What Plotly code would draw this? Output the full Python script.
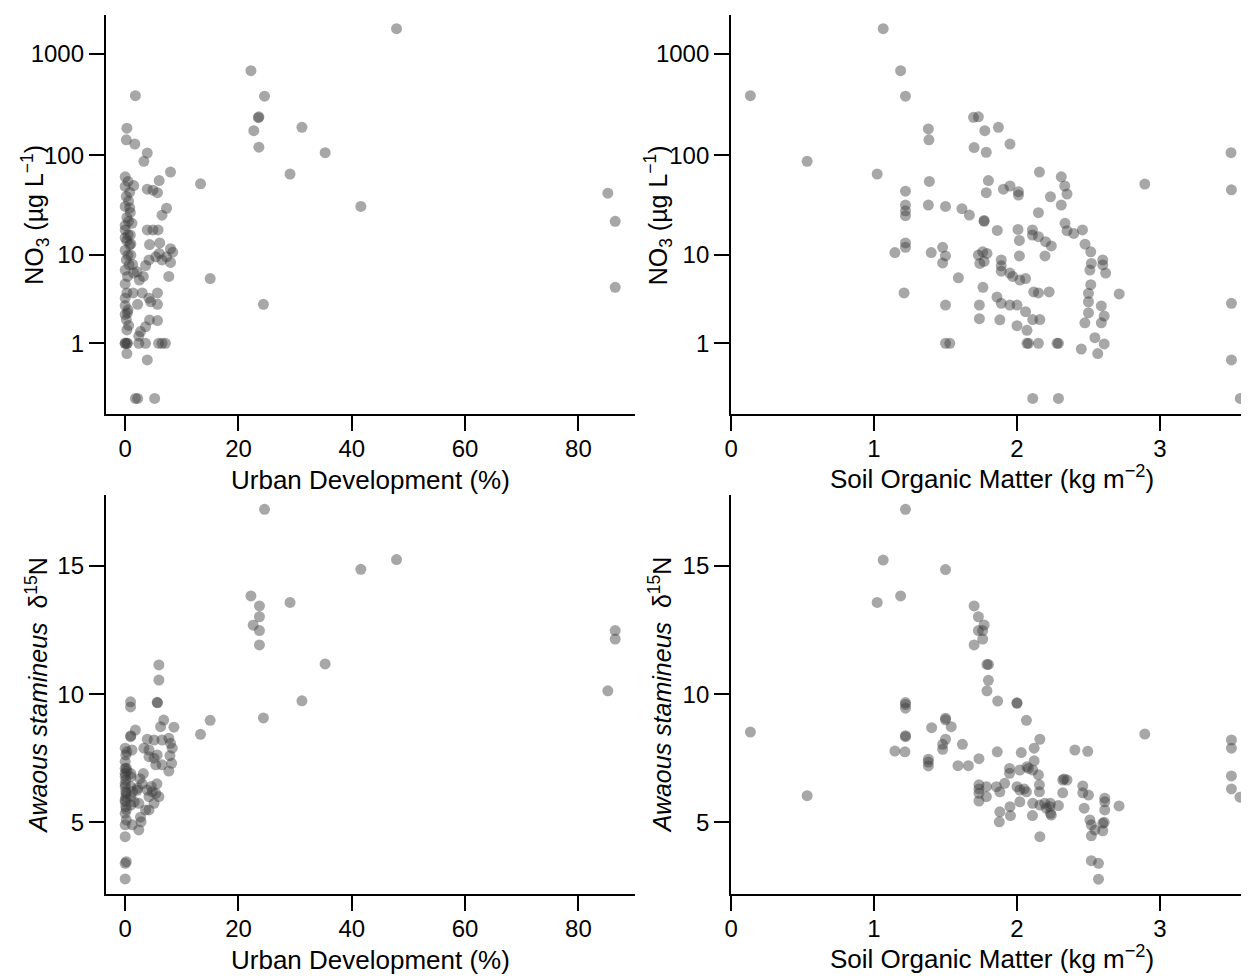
import numpy as np
import plotly.graph_objects as go

# ---------------- data ----------------
# Panel A: NO3 vs urban development
urban_a = [0.3, 0.2, 1.7, 1.8, 3.9, 3.3, 8.0, 6.0, 13.3, 3.9, 4.9, 5.7, 7.3, 6.5, 3.9, 4.9, 5.8, 4.3, 6.1,
           8.0, 8.4, 5.4, 6.0, 6.5, 7.3, 3.6, 4.2, 8.0, 7.7, 2.1, 3.2, 15.0,
           1.4, 3.0, 5.7, 4.2, 4.5, 2.2, 5.7, 24.4, 4.3, 3.6, 2.7, 2.4, 5.7,
           0.4, 2.4, 3.6, 5.9, 6.5, 7.1, 0.3, 3.9, 1.8, 2.2, 5.2,
           22.2, 24.6, 23.5, 23.6, 22.7, 31.2, 23.6, 29.1, 47.9, 35.3, 41.6, 85.2, 86.5, 86.5,
           0.0, 0.5, 0.0, 0.8, 0.2, 0.6, 0.0, 0.9, 0.3, 1.2, 0.0, 0.5, 0.0, 0.3, 0.8, 0.0, 0.5, 1.0,
           0.2, 0.7, 0.0, 0.4, 1.5, 0.0, 0.3, 0.0, 0.5, 0.0, 0.2, 0.6, 0.0, 0.3, 1.0, 0.0, 1.5, 0.8,
           0.6, 1.3, 2.5, 0.0, 0.4, 0.9, 0.0, 0.3]
no3_a = [185, 142, 129, 388, 105, 87, 68, 56, 52, 46, 45, 42.5, 29.7, 25.3, 18, 18, 18, 12.8, 13.3,
         11.6, 10.7, 9.6, 10.4, 8.9, 9.6, 7.8, 8.9, 8.4, 6.0, 6.7, 6.0, 5.7,
         4.0, 4.0, 4.0, 3.5, 3.2, 3.0, 3.0, 3.0, 1.98, 1.64, 1.43, 1.25, 1.95,
         1.0, 1.0, 1.0, 1.0, 1.0, 1.0, 0.71, 0.56, 0, 0, 0,
         684, 383, 235, 240, 175, 189, 120, 65, 1778, 106, 31, 42, 22, 4.6,
         61, 55, 49, 43, 39, 35, 31, 27, 24, 21, 18, 16, 15, 14, 12.7, 11.2, 10, 10,
         8.9, 7.9, 7.0, 6.0, 6.5, 5.0, 4.0, 2.9, 2.6, 2.3, 2.0, 1.7, 1.0, 1.0, 13, 20, 50, 30,
         22, 8.0, 5.5, 3.5, 2.4, 16, 1.0, 1.5]

# Panel B: NO3 vs soil organic matter
som_b = [0.135, 0.532, 1.022, 1.064, 1.186, 1.22, 1.38, 1.384, 1.387, 1.38, 1.22, 1.22, 1.22, 1.22, 1.22, 1.22,
         1.146, 1.40, 1.21,
         1.50, 1.615, 1.667, 1.48, 1.50, 1.48, 1.59, 1.50, 1.50, 1.53,
         1.696, 1.73, 1.775, 1.87, 1.70, 1.785, 1.951, 1.80, 1.785, 1.905, 1.951, 2.01, 2.01, 2.157, 2.234,
         2.15, 1.77, 1.77, 1.862, 2.007, 2.017, 2.108, 2.108, 2.15, 2.20, 2.24,
         1.73, 1.76, 1.79, 1.74, 1.77,
         1.89, 1.89, 1.89, 1.95, 1.97, 2.02, 2.06, 2.017, 2.196,
         2.117, 2.15, 2.225, 1.762,
         1.86, 1.89, 1.95, 2.0, 1.737, 1.737, 1.88, 2.0, 2.07, 2.11, 2.16, 2.06,
         2.07, 2.08, 2.15, 2.28, 2.11, 2.29,
         3.497, 3.5, 3.5, 3.5, 3.562, 2.894,
         2.31, 2.334, 2.35, 2.31, 2.336, 2.35, 2.397, 2.458, 2.476, 2.516,
         2.52, 2.6, 2.6, 2.62, 2.51, 2.516, 2.5, 2.5, 2.5, 2.59, 2.61, 2.59, 2.475, 2.715,
         2.545, 2.61, 2.565, 2.45, 2.29]
no3_b = [388, 87, 65, 1778, 684, 383, 182, 142, 55, 32, 44, 32, 28, 25, 13.3, 12,
         10.6, 10.6, 4.0,
         31, 29.4, 25.4, 12, 9.8, 8.3, 5.8, 2.94, 1.0, 1.0,
         237, 240, 175, 189, 119, 107, 129, 56, 42.5, 46, 49.5, 43.5, 40.2, 68, 38.7,
         26.8, 22, 22.4, 17.8, 18.2, 14.1, 18, 16, 15.4, 13.7, 12.4,
         10, 10.8, 10.4, 8.2, 8.6,
         8.9, 7.75, 6.8, 6.5, 6.0, 5.5, 5.7, 9.8, 9.8,
         4.1, 4.0, 4.1, 4.6,
         3.6, 3.07, 2.94, 2.94, 2.94, 2.05, 1.99, 1.69, 1.48, 2.0, 2.0, 2.47,
         1.0, 1.0, 1.0, 1.0, 0, 0,
         106, 45.4, 3.07, 0.56, 0, 51.7,
         61, 49.5, 41.2, 32, 21, 17.7, 16.6, 18, 12.9, 10.8,
         8.2, 8.9, 7.9, 6.5, 7.0, 4.9, 3.96, 3.2, 2.4, 2.87, 2.2, 1.83, 1.83, 3.9,
         1.19, 0.98, 0.71, 0.83, 1.0]

# Panel C: d15N vs urban development
urban_c = [24.6, 22.2, 23.7, 23.7, 22.6, 23.7, 23.7, 29.1, 31.2, 24.4, 13.3, 15.0, 41.6, 47.9, 35.3,
           86.5, 86.5, 85.2,
           5.95, 5.95, 0.95, 0.95, 5.65, 5.7, 6.8, 6.25, 8.6, 1.8, 0.95, 1.0,
           3.9, 5.1, 6.5, 7.7, 8.0, 8.3, 7.9, 8.2,
           0.0, 0.1, 0.0, 0.2, 0.0, 0.1, 0.0, 0.2, 0.0, 0.1, 0.0, 0.2, 0.0, 0.0, 0.3, 0.0, 0.1, 0.2,
           0.0, 0.3, 0.1, 0.0, 0.2, 0.0, 0.0, 0.0,
           1.0, 1.0, 1.0, 1.0, 1.0, 1.3, 1.6, 1.2,
           3.3, 4.2, 5.1, 4.2, 5.65, 6.5, 5.4, 7.7, 2.6, 3.0, 2.2,
           3.9, 4.8, 5.4, 5.95, 4.2, 5.1, 3.6, 4.2, 2.4, 2.1, 5.6, 4.6, 3.2, 2.8,
           1.25, 2.4, 2.7, 1.5]
d15n_c = [17.21, 13.83, 13.44, 13.02, 12.69, 12.48, 11.92, 13.58, 9.74, 9.07, 8.43, 8.98, 14.87, 15.25, 11.18,
          12.48, 12.15, 10.13,
          11.14, 10.55, 9.7, 9.5, 9.68, 9.66, 8.99, 8.73, 8.71, 8.6, 8.34, 8.38,
          8.24, 8.21, 8.21, 8.28, 8.08, 7.89, 7.6, 7.3,
          7.89, 7.63, 7.37, 7.11, 6.91, 6.65, 6.39, 6.13, 5.87, 5.61, 5.35, 5.09, 4.9, 4.44, 7.75, 6.5,
          6.0, 5.5, 6.8, 7.0, 6.2, 5.8, 3.46, 3.4, 2.79,
          7.1, 6.78, 6.39, 6.0, 5.67, 6.9, 6.2, 5.8,
          7.82, 7.89, 7.82, 7.5, 7.56, 7.63, 7.24, 7.24, 7.0, 6.7, 6.5,
          6.33, 6.26, 6.19, 6.13, 6.0, 6.0, 5.74, 5.48, 5.48, 5.74, 6.25, 6.5, 6.4, 6.9,
          5.02, 4.9, 4.7, 5.2]

# Panel D: d15N vs soil organic matter
som_d = [1.22, 1.064, 1.186, 1.022, 1.22, 1.22, 1.22, 0.135, 1.403, 1.22, 1.22, 1.146, 1.216, 1.38, 1.38, 1.38,
         0.532,
         1.50, 1.70, 1.73, 1.77, 1.73, 1.76, 1.76, 1.70, 1.80, 1.79, 1.80, 1.79, 1.865, 2.0, 2.0, 2.066,
         2.16, 2.12, 2.03, 1.862, 2.12,
         1.50, 1.50, 1.54, 1.50, 1.48, 1.48, 1.618, 1.587, 1.66, 1.734,
         1.734, 1.734, 1.734, 1.786, 1.786, 1.734,
         1.856, 1.88, 1.88, 1.876, 1.951, 1.954,
         1.914, 1.948, 1.948, 2.02, 2.07, 2.08,
         2.0, 2.02, 2.066, 2.02, 2.05,
         2.11, 2.15, 2.157, 2.157, 2.11, 2.108, 2.16,
         2.194, 2.23, 2.24, 2.29, 2.16, 2.205, 2.234, 2.234,
         2.32, 2.35, 2.33, 2.32, 2.405, 2.495,
         2.46, 2.46, 2.5, 2.47,
         2.614, 2.614, 2.614, 2.714,
         2.51, 2.52, 2.52, 2.545, 2.6, 2.6, 2.61,
         2.52, 2.57, 2.57,
         2.894, 3.50, 3.50, 3.50, 3.50, 3.56]
d15n_d = [17.21, 15.23, 13.83, 13.58, 9.67, 9.45, 9.6, 8.52, 8.69, 8.34, 8.38, 7.78, 7.75, 7.46, 7.35, 7.2,
          6.04,
          14.86, 13.44, 13.02, 12.7, 12.48, 12.48, 12.15, 11.92, 11.16, 11.16, 10.54, 10.13, 9.73, 9.64, 9.66, 8.98,
          8.24, 7.89, 7.72, 7.75, 7.4,
          9.06, 9.0, 8.73, 8.24, 8.04, 7.85, 8.04, 7.21, 7.21, 7.48,
          6.46, 6.13, 5.83, 6.39, 6.0, 6.3,
          6.39, 6.19, 5.41, 5.02, 5.61, 5.26,
          6.52, 7.1, 6.91, 7.04, 7.17, 7.1,
          6.39, 6.26, 6.19, 5.8, 6.3,
          7.04, 6.85, 6.46, 6.19, 5.74, 5.26, 4.44,
          5.74, 5.61, 5.28, 5.65, 5.67, 5.55, 5.35, 5.74,
          6.65, 6.65, 6.69, 6.15, 7.82, 7.77,
          6.42, 6.15, 6.06, 5.55,
          5.94, 5.8, 5.48, 5.64,
          5.09, 4.9, 4.47, 4.7, 4.96, 4.67, 5.0,
          3.5, 3.4, 2.78,
          8.44, 8.21, 7.89, 6.81, 6.3, 5.98]

no3_ticks = [1, 10, 100, 1000]
no3_offset = 0.4          # NO3 axis is log10(NO3 + 0.4)
d15n_ticks = [5, 10, 15]
urban_ticks = [0, 20, 40, 60, 80]
som_ticks = [0, 1, 2, 3]

no3_title = "NO<sub>3</sub> (µg L<sup>−1</sup>)"
d15n_title = "<i>Awaous stamineus</i>  δ<sup>15</sup>N"
urban_title = "Urban Development (%)"
som_title = "Soil Organic Matter (kg m<sup>−2</sup>)"

# ---------------- figure ----------------
PAD = 8                       # default page margin around the plot div
W, H = 1249 - PAD, 979 - PAD
# observed on-screen placement of the plot area (horizontal)
X0, XW = 16.2, 1233.0
FONT = "Liberation Sans, Arial, sans-serif"
marker = dict(size=11, color="rgba(60,60,60,0.45)", line=dict(width=0))


def fx(p):
    """page pixel x -> paper fraction"""
    return (p - X0) / XW


def fy(p):
    """page pixel y -> paper fraction"""
    return 1 - (p - PAD) / H


fig = go.Figure()
fig.add_trace(go.Scatter(x=urban_a, y=np.array(no3_a) + no3_offset, mode="markers",
                         marker=marker, xaxis="x", yaxis="y", showlegend=False))
fig.add_trace(go.Scatter(x=som_b, y=np.array(no3_b) + no3_offset, mode="markers",
                         marker=marker, xaxis="x2", yaxis="y2", showlegend=False))
fig.add_trace(go.Scatter(x=urban_c, y=d15n_c, mode="markers",
                         marker=marker, xaxis="x3", yaxis="y3", showlegend=False))
fig.add_trace(go.Scatter(x=som_d, y=d15n_d, mode="markers",
                         marker=marker, xaxis="x4", yaxis="y4", showlegend=False))

left_dom = [fx(107), fx(636)]
right_dom = [fx(731.7), 1.0]
top_dom = [fy(414), fy(15)]
bot_dom = [fy(894.3), fy(495)]

axis_common = dict(showline=True, linecolor="black", linewidth=2, ticks="outside", ticklen=15,
                   tickwidth=2, tickcolor="black", showgrid=False, zeroline=False,
                   tickfont=dict(family=FONT, size=24, color="black"), mirror=False)
xaxis_common = dict(axis_common, ticklabelstandoff=-3)

no3_tickvals = [t + no3_offset for t in no3_ticks]
no3_range = [-0.551, 3.385]

fig.update_layout(
    width=W, height=H, margin=dict(l=0, r=0, t=0, b=0),
    paper_bgcolor="white", plot_bgcolor="white",
    xaxis=dict(domain=left_dom, anchor="y", range=[-3.41, 90.05], tickvals=urban_ticks, **xaxis_common),
    yaxis=dict(domain=top_dom, anchor="x", type="log", range=no3_range, tickvals=no3_tickvals,
               ticktext=[str(t) for t in no3_ticks], **axis_common),
    xaxis2=dict(domain=right_dom, anchor="y2", range=[0, 3.623], tickvals=som_ticks, **xaxis_common),
    yaxis2=dict(domain=top_dom, anchor="x2", type="log", range=no3_range, tickvals=no3_tickvals,
                ticktext=[str(t) for t in no3_ticks], **axis_common),
    xaxis3=dict(domain=left_dom, anchor="y3", range=[-3.41, 90.05], tickvals=urban_ticks, **xaxis_common),
    yaxis3=dict(domain=bot_dom, anchor="x3", range=[2.19, 17.77], tickvals=d15n_ticks, **axis_common),
    xaxis4=dict(domain=right_dom, anchor="y4", range=[0, 3.623], tickvals=som_ticks, **xaxis_common),
    yaxis4=dict(domain=bot_dom, anchor="x4", range=[2.19, 17.77], tickvals=d15n_ticks, **axis_common),
)

tfont = dict(family=FONT, size=26, color="black")
yfont = dict(family=FONT, size=25, color="black")
titles = [
    (urban_title, 371.5, 480, 0),
    (som_title, 992, 477, 0),
    (urban_title, 371.5, 960, 0),
    (som_title, 992, 957, 0),
    (no3_title, 36, 215, -90),
    (no3_title, 659, 215, -90),
    (d15n_title, 38, 695, -90),
    (d15n_title, 661, 695, -90),
]
for text, px_, py_, ang in titles:
    fig.add_annotation(text=text, x=fx(px_), y=fy(py_), xref="paper", yref="paper",
                       xanchor="center", yanchor="middle", showarrow=False, textangle=ang,
                       font=tfont if ang == 0 else yfont)

fig.write_html("out.html")
